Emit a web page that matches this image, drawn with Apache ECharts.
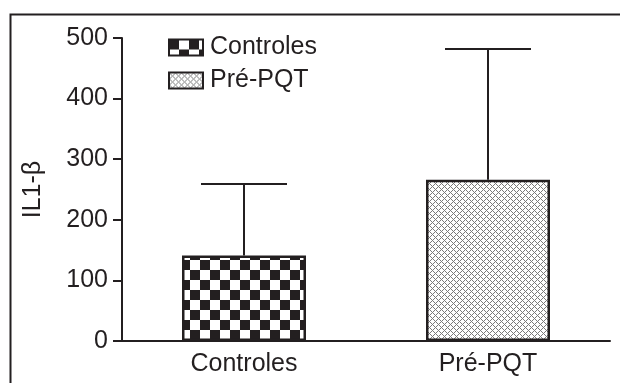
<!DOCTYPE html>
<html>
<head>
<meta charset="utf-8">
<script src="https://cdn.jsdelivr.net/npm/echarts@6/dist/echarts.min.js"></script>
<style>
html,body{margin:0;padding:0;background:#fff;}
#chart{width:620px;height:383px;}
</style>
</head>
<body>
<div id="chart"></div>
<script>
// ---- data ----
const categories = ['Controles', 'Pré-PQT'];
const meanValues = [141, 266];
const upperValues = [259, 482];
const yTicks = [0, 100, 200, 300, 400, 500];

const INK = '#231f20';
const FONT = "'Liberation Sans', Arial, Helvetica, sans-serif";
const FS = 25;

function checkerPattern() {
  const c = document.createElement('canvas');
  c.width = 20; c.height = 20;
  const g = c.getContext('2d');
  g.fillStyle = '#fff'; g.fillRect(0, 0, 20, 20);
  g.fillStyle = INK;
  g.fillRect(0, 0, 10, 10);
  g.fillRect(10, 10, 10, 10);
  return { image: c, repeat: 'repeat' };
}
function hatchPattern() {
  const c = document.createElement('canvas');
  const n = 6;
  c.width = n; c.height = n;
  const g = c.getContext('2d');
  g.fillStyle = '#ffffff'; g.fillRect(0, 0, n, n);
  g.fillStyle = '#7a7a7a';
  for (let x = 0; x < n; x++) {
    for (let y = 0; y < n; y++) {
      if ((x + y) % n === 0 || ((x - y) % n + n) % n === 0) g.fillRect(x, y, 1, 1);
    }
  }
  return { image: c, repeat: 'repeat' };
}

const seriesData = categories.map((name, i) =>
  categories.map((_, j) => (i === j ? meanValues[j] : '-')));
const patterns = [checkerPattern(), hatchPattern()];

const chart = echarts.init(document.getElementById('chart'), null, { renderer: 'canvas' });

const barSeries = categories.map((name, i) => ({
  name: name,
  type: 'bar',
  data: seriesData[i],
  barWidth: 124,
  barGap: '-100%',
  itemStyle: { color: patterns[i], borderColor: INK, borderWidth: 2.5 },
  emphasis: { disabled: true },
  z: 3
}));

const errorSeries = {
  type: 'custom',
  data: categories.map((_, i) => [i, meanValues[i], upperValues[i]]),
  encode: { x: 0, y: [1, 2] },
  z: 2,
  silent: true,
  renderItem: function (params, api) {
    const idx = api.value(0);
    const top = api.coord([idx, api.value(2)]);
    const base = api.coord([idx, api.value(1)]);
    const half = 43;
    const st = { stroke: INK, lineWidth: 2 };
    return {
      type: 'group',
      children: [
        { type: 'line', shape: { x1: top[0], y1: top[1], x2: base[0], y2: base[1] }, style: st },
        { type: 'line', shape: { x1: top[0] - half, y1: top[1], x2: top[0] + half, y2: top[1] }, style: st }
      ]
    };
  }
};

chart.setOption({
  animation: false,
  backgroundColor: '#fff',
  textStyle: { fontFamily: FONT },
  graphic: [{
    type: 'rect',
    left: 8, top: 12,
    shape: { width: 1000, height: 1000 },
    style: { fill: 'none', stroke: INK, lineWidth: 2 },
    silent: true
  }],
  legend: {
    data: categories,
    orient: 'vertical',
    left: 168,
    top: 35,
    padding: 0,
    itemWidth: 34,
    itemHeight: 16,
    itemGap: 8,
    selectedMode: false,
    icon: 'rect',
    itemStyle: { borderColor: INK, borderWidth: 2 },
    textStyle: { fontFamily: FONT, fontSize: FS, color: INK, padding: [0, 0, 0, 2] }
  },
  grid: { left: 122, right: 10, top: 38, bottom: 42, containLabel: false },
  xAxis: {
    type: 'category',
    data: categories,
    axisLine: { lineStyle: { color: INK, width: 2 } },
    axisTick: { show: false },
    axisLabel: { color: INK, fontSize: FS, fontFamily: FONT, margin: 11 },
    splitLine: { show: false }
  },
  yAxis: {
    type: 'value',
    min: yTicks[0],
    max: yTicks[yTicks.length - 1],
    interval: yTicks[1] - yTicks[0],
    name: 'IL1-β',
    nameLocation: 'middle',
    nameGap: 76,
    nameTextStyle: { color: INK, fontSize: FS, fontFamily: FONT },
    axisLine: { show: true, lineStyle: { color: INK, width: 2 } },
    axisTick: { show: true, length: 9, lineStyle: { color: INK, width: 2 } },
    axisLabel: { color: INK, fontSize: FS, fontFamily: FONT, margin: 14 },
    splitLine: { show: false }
  },
  series: [...barSeries, errorSeries]
});
</script>
</body>
</html>
